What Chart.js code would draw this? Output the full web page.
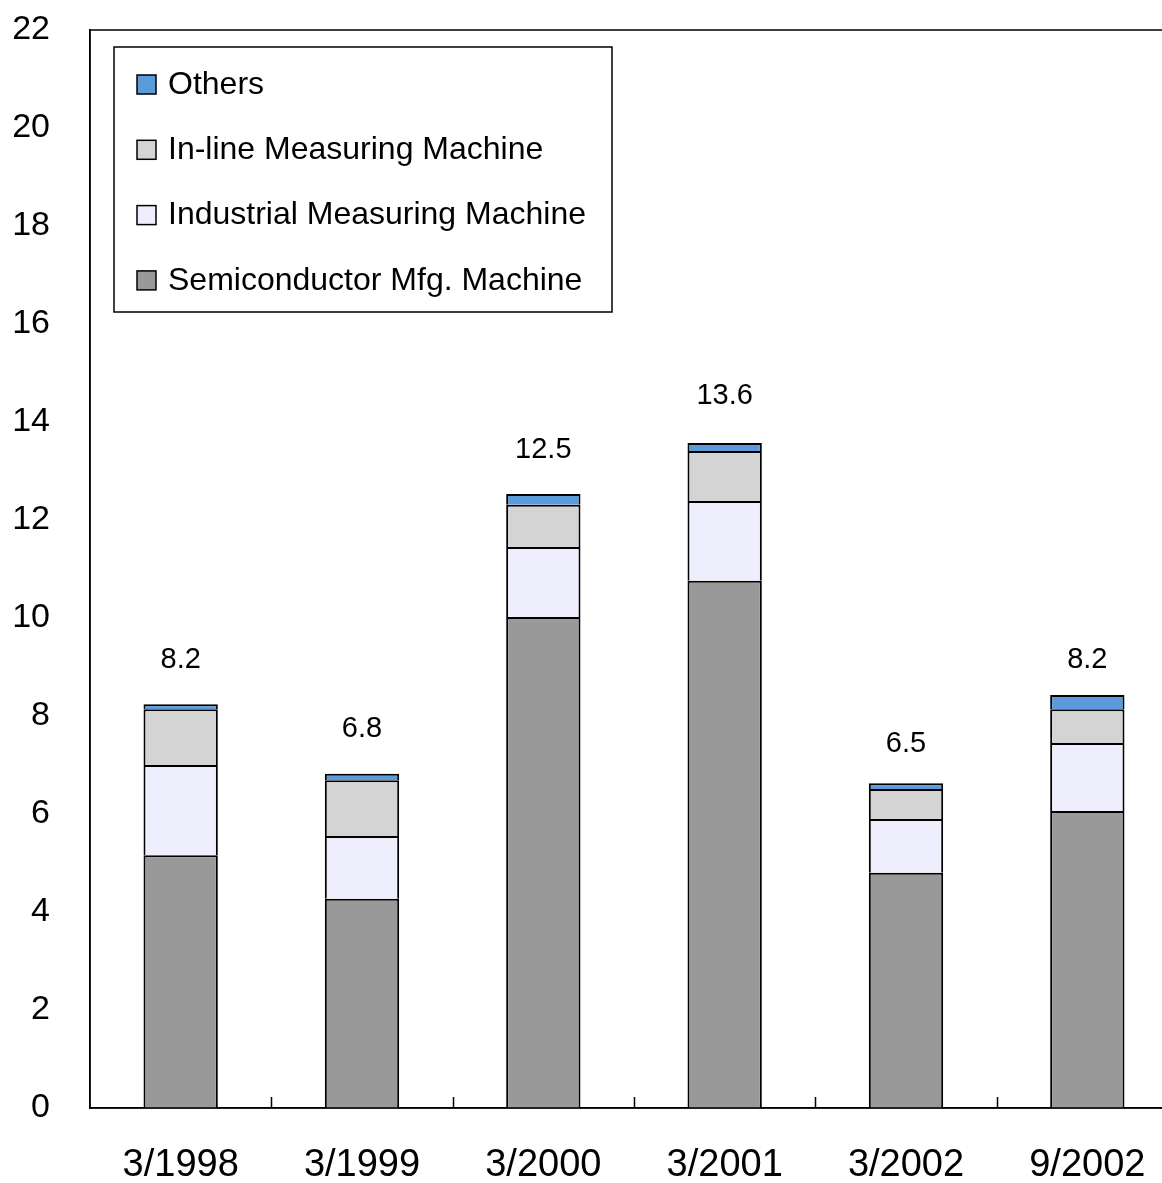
<!DOCTYPE html>
<html>
<head>
<meta charset="utf-8">
<script src="https://cdn.jsdelivr.net/npm/chart.js@4.4.1/dist/chart.umd.min.js"></script>
<style>
    html, body { margin: 0; padding: 0; background: #fff; overflow: hidden; }
    #wrap { width: 1180px; height: 1183px; }
</style>
</head>
<body>
<div id="wrap"><canvas id="chart" width="1180" height="1183"></canvas></div>
<script>
// Chart data
const categories = ['3/1998', '3/1999', '3/2000', '3/2001', '3/2002', '9/2002'];
const semiconductor = [5.16, 4.27, 10.02, 10.76, 4.80, 6.06];
const industrial = [1.84, 1.28, 1.43, 1.63, 1.10, 1.39];
const inline = [1.14, 1.14, 0.86, 1.02, 0.61, 0.69];
const others = [0.10, 0.13, 0.22, 0.16, 0.12, 0.29];
const totalLabels = ['8.2', '6.8', '12.5', '13.6', '6.5', '8.2'];
const yTicks = [0, 2, 4, 6, 8, 10, 12, 14, 16, 18, 20, 22];

const FONT = '"Liberation Sans", Arial, sans-serif';

// Plot frame + inward x ticks
const framePlugin = {
    id: 'frame',
    afterDraw(chart) {
        const { ctx, chartArea: a, scales } = chart;
        ctx.save();
        ctx.strokeStyle = '#000';
        ctx.lineWidth = 1.5;
        ctx.strokeRect(a.left, a.top, a.right - a.left, a.bottom - a.top);
        // tick marks between categories
        const x = scales.x;
        const step = x.getPixelForValue(1) - x.getPixelForValue(0);
        ctx.beginPath();
        for (let i = 1; i < categories.length; i++) {
            const px = Math.round(x.getPixelForValue(i) - step / 2) + 0.5;
            ctx.moveTo(px, a.bottom);
            ctx.lineTo(px, a.bottom - 11);
        }
        ctx.stroke();
        ctx.restore();
    }
};

// Totals above each stack
const totalsPlugin = {
    id: 'totals',
    afterDatasetsDraw(chart) {
        const { ctx, scales } = chart;
        ctx.save();
        ctx.font = '29px ' + FONT;
        ctx.fillStyle = '#000';
        ctx.textAlign = 'center';
        ctx.textBaseline = 'middle';
        categories.forEach((c, i) => {
            const px = scales.x.getPixelForValue(i);
            const py = scales.y.getPixelForValue(parseFloat(totalLabels[i]));
            ctx.fillText(totalLabels[i], px, py - 46);
        });
        ctx.restore();
    }
};

// Legend box inside the plot
const legendPlugin = {
    id: 'boxLegend',
    afterDraw(chart) {
        const { ctx, chartArea: a } = chart;
        const left = a.left + 24, top = a.top + 17, w = 498, h = 265;
        ctx.save();
        ctx.fillStyle = '#fff';
        ctx.fillRect(left, top, w, h);
        ctx.strokeStyle = '#000';
        ctx.lineWidth = 1.5;
        ctx.strokeRect(left, top, w, h);
        ctx.font = '32px ' + FONT;
        ctx.textBaseline = 'middle';
        const items = chart.data.datasets.slice().reverse();
        items.forEach((ds, i) => {
            const cy = top + 37 + i * 65.3;
            ctx.fillStyle = ds.backgroundColor;
            ctx.fillRect(left + 23, cy - 9, 19, 19);
            ctx.lineWidth = 1.5;
            ctx.strokeRect(left + 23, cy - 9, 19, 19);
            ctx.fillStyle = '#000';
            ctx.fillText(ds.label, left + 54, cy + 1);
        });
        ctx.restore();
    }
};

const barStyle = { borderColor: '#000', borderWidth: 2, barPercentage: 0.41, categoryPercentage: 1 };

new Chart(document.getElementById('chart'), {
    type: 'bar',
    data: {
        labels: categories,
        datasets: [
            { label: 'Semiconductor Mfg. Machine', data: semiconductor, backgroundColor: '#999999', ...barStyle },
            { label: 'Industrial Measuring Machine', data: industrial, backgroundColor: '#EEEEFC', ...barStyle },
            { label: 'In-line Measuring Machine', data: inline, backgroundColor: '#D4D4D4', ...barStyle },
            { label: 'Others', data: others, backgroundColor: '#5B9BDB', ...barStyle }
        ]
    },
    options: {
        responsive: false,
        animation: false,
        devicePixelRatio: 1,
        layout: { padding: { top: 30, right: 2, left: 0, bottom: 0 } },
        plugins: {
            legend: { display: false },
            tooltip: { enabled: false }
        },
        scales: {
            x: {
                stacked: true,
                grid: { display: false, drawTicks: false },
                border: { display: true, color: '#000', width: 1.5 },
                ticks: { color: '#000', font: { family: FONT, size: 38 }, padding: 35, maxRotation: 0 },
                afterFit(scale) {
                    scale.height = 75;
                    scale.paddingLeft = 0;
                    scale.paddingRight = 0;
                }
            },
            y: {
                stacked: true,
                min: 0,
                max: 22,
                afterBuildTicks(scale) { scale.ticks = yTicks.map(v => ({ value: v })); },
                grid: { display: false, drawTicks: false },
                border: { display: true, color: '#000', width: 1.5 },
                ticks: { color: '#000', font: { family: FONT, size: 34 }, padding: 40 },
                afterFit(scale) {
                    scale.width = 90;
                    scale.paddingTop = 0;
                    scale.paddingBottom = 0;
                }
            }
        }
    },
    plugins: [framePlugin, totalsPlugin, legendPlugin]
});
</script>
</body>
</html>
